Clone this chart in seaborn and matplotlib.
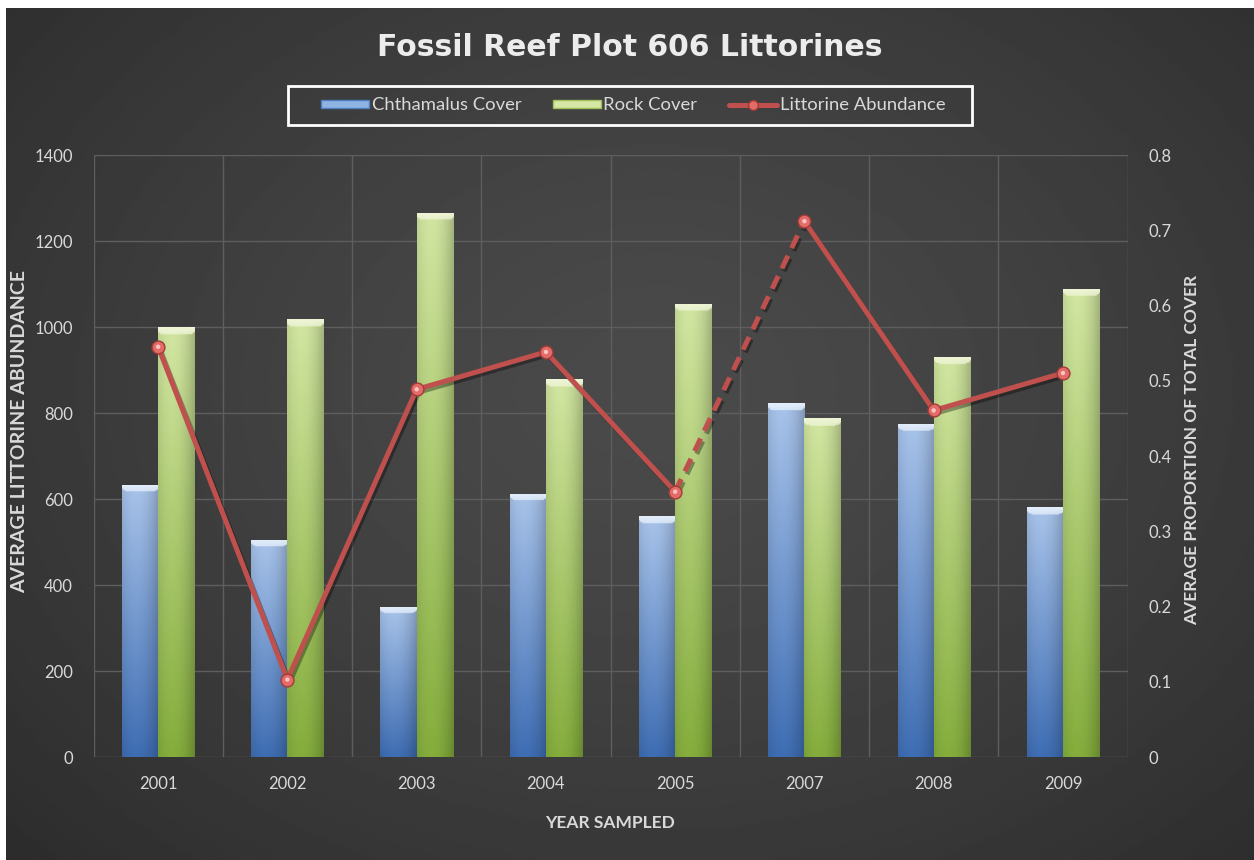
import numpy as np
import pandas as pd
import matplotlib
matplotlib.use("Agg")
import matplotlib.pyplot as plt
import matplotlib.patheffects as pe
from matplotlib.lines import Line2D
from matplotlib.patches import Patch, Rectangle
import seaborn as sns

# ---- data -----------------------------------------------------------------
years = ["2001", "2002", "2003", "2004", "2005", "2007", "2008", "2009"]
chthamalus_cover = [0.362, 0.289, 0.200, 0.350, 0.320, 0.470, 0.443, 0.332]
rock_cover = [0.571, 0.582, 0.723, 0.502, 0.602, 0.450, 0.532, 0.622]
littorine_abundance = [954, 180, 855, 942, 617, 1246, 806, 893]

abundance_ticks = [0, 200, 400, 600, 800, 1000, 1200, 1400]
cover_ticks = [0, 0.1, 0.2, 0.3, 0.4, 0.5, 0.6, 0.7, 0.8]
cover_tick_labels = ["0", "0.1", "0.2", "0.3", "0.4", "0.5", "0.6", "0.7", "0.8"]
series_names = ["Chthamalus Cover", "Rock Cover", "Littorine Abundance"]

title = "Fossil Reef Plot 606 Littorines"
x_title = "YEAR SAMPLED"
left_title = "AVERAGE LITTORINE ABUNDANCE"
right_title = "AVERAGE PROPORTION OF TOTAL COVER"

# ---- style ----------------------------------------------------------------
sns.set_theme(style="white")
plt.rcParams["font.family"] = ["Lato", "DejaVu Sans"]

TEXT = "#d9d9d9"
GRID = "#5e5e5e"
BLUE_TOP, BLUE_BOT, BLUE_CAP = "#a9c4ea", "#3e6db3", "#e4eefb"
GREEN_TOP, GREEN_BOT, GREEN_CAP = "#d2e6a2", "#84ad3c", "#eef5d6"
LINE_RED = "#c0504d"
TICK_SIZE = 12

W, H = 1254, 860
fig = plt.figure(figsize=(W / 100, H / 100), dpi=100, facecolor="white")

# dark radial backdrop (white strip along the top and left edge)
bg = fig.add_axes([6 / W, 0, 1 - 6 / W, 1 - 8 / H])
bg.axis("off")
gx, gy = np.meshgrid(np.linspace(0, 1, 400), np.linspace(0, 1, 300))
dist = np.sqrt(((gx - 0.52) / 0.72) ** 2 + ((gy - 0.55) / 0.80) ** 2)
shade = 74 - 30 * np.clip(dist, 0, 1) ** 1.4
bg.imshow(shade, extent=[0, 1, 0, 1], origin="lower", aspect="auto",
          cmap="gray", vmin=0, vmax=255, interpolation="bilinear")

# plot area
L, R, T, B = 93.5, 1127.6, 155, 757
ax = fig.add_axes([L / W, 1 - B / H, (R - L) / W, (B - T) / H])
ax.set_facecolor("none")

cover_df = pd.DataFrame({
    "year": years * 2,
    "cover": chthamalus_cover + rock_cover,
    "series": [series_names[0]] * len(years) + [series_names[1]] * len(years),
})
sns.barplot(data=cover_df, x="year", y="cover", hue="series", order=years,
            hue_order=series_names[:2],
            palette=[BLUE_BOT, GREEN_BOT], saturation=1, width=0.56, gap=0,
            edgecolor="none", legend=False, ax=ax, zorder=2)

ax.set_xlim(-0.5, len(years) - 0.5)
ax.set_ylim(cover_ticks[0], cover_ticks[-1])


def to_rgb(c):
    return np.array(matplotlib.colors.to_rgb(c))


def gradient_fill(patch, top, bottom, cap):
    """Paint a glossy vertical gradient with a bevelled top cap into a bar."""
    x0, y0 = patch.get_x(), patch.get_y()
    w, h = patch.get_width(), patch.get_height()
    ny, nx = 300, 60
    t = np.linspace(0, 1, ny)[:, None, None]
    u = np.linspace(0, 1, nx)[None, :, None]
    col = to_rgb(bottom) * (1 - t) + to_rgb(top) * t
    prof = 1.0 - 0.22 * ((u - 0.38) / 0.62) ** 2
    img = np.clip(col * prof, 0, 1)
    # bevel cap: a light band of fixed screen height at the top of the bar
    ylo, yhi = ax.get_ylim()
    cap_h = 7 / (B - T) * (yhi - ylo)
    depth = (1 - t) * h
    inset = np.abs(u - 0.5) * 2
    in_cap = depth < cap_h * (1.0 - 0.45 * inset ** 8)
    fade = np.clip(depth / cap_h, 0, 1)
    capcol = to_rgb(cap) * (1 - 0.25 * fade) + img * 0.25 * fade
    img = np.where(in_cap, capcol, img)
    im = ax.imshow(img, extent=[x0, x0 + w, y0, y0 + h], origin="lower",
                   aspect="auto", zorder=2.5, interpolation="bilinear")
    im.set_clip_path(patch)


for container, (top, bot, cap) in zip(
        ax.containers,
        [(BLUE_TOP, BLUE_BOT, BLUE_CAP), (GREEN_TOP, GREEN_BOT, GREEN_CAP)]):
    for bar in container:
        gradient_fill(bar, top, bot, cap)

ax.set_xlim(-0.5, len(years) - 0.5)
ax.set_ylim(cover_ticks[0], cover_ticks[-1])

# gridlines follow the abundance scale (left axis) and the category borders
for v in abundance_ticks:
    ax.axhline(v / abundance_ticks[-1] * cover_ticks[-1], color=GRID, lw=1, zorder=0.5)
for k in range(len(years) + 1):
    ax.axvline(k - 0.5, color=GRID, lw=1, zorder=0.5)
for s in ax.spines.values():
    s.set_visible(False)

# ---- abundance line on the twin axis ---------------------------------------
ax2 = ax.twinx()
ax2.set_ylim(abundance_ticks[0], abundance_ticks[-1])
pos = np.arange(len(years))
line_df = pd.DataFrame({"pos": pos, "abundance": littorine_abundance})
shadow = [pe.SimpleLineShadow(offset=(1.5, -2), shadow_color="black", alpha=0.35), pe.Normal()]

for i in range(len(years) - 1):
    seg = line_df.iloc[i:i + 2]
    gap_year = int(years[i + 1]) - int(years[i]) > 1
    sns.lineplot(data=seg, x="pos", y="abundance", ax=ax2, color=LINE_RED,
                 lw=3.6, solid_capstyle="round", dash_capstyle="butt",
                 legend=False, zorder=3)
    ln = ax2.lines[-1]
    ln.set_path_effects(shadow)
    if gap_year:
        ln.set_linestyle((0, (2.8, 1.7)))

sns.scatterplot(data=line_df, x="pos", y="abundance", ax=ax2, s=85,
                color="#e36b68", edgecolor="#a23a37", linewidth=1.0,
                legend=False, zorder=4)
# small glint on each marker
sns.scatterplot(data=line_df, x="pos", y="abundance", ax=ax2, s=10,
                color="#f7c4c2", edgecolor="none", legend=False, zorder=5)

ax2.set_xlim(-0.5, len(years) - 0.5)
for s in ax2.spines.values():
    s.set_visible(False)

# twinx moves the host ticks to the left: cover scale goes back to the right
ax.yaxis.tick_right()
ax.yaxis.set_label_position("right")
ax.set_yticks(cover_ticks, cover_tick_labels)
ax.tick_params(axis="y", length=0, pad=15, labelsize=TICK_SIZE, labelcolor=TEXT,
               labelleft=False, labelright=True)
ax.tick_params(axis="x", length=0, pad=14, labelsize=TICK_SIZE, labelcolor=TEXT)
ax.set_xlabel(x_title, fontsize=12.5, fontweight="bold", color=TEXT)
ax.xaxis.set_label_coords(0.4995, -0.096)
ax.set_ylabel(right_title, fontsize=12.5, fontweight="bold", color=TEXT, rotation=90)
ax.yaxis.set_label_coords(1.0546, 0.51)

ax2.yaxis.tick_left()
ax2.yaxis.set_label_position("left")
ax2.set_yticks(abundance_ticks)
ax2.tick_params(axis="y", length=0, pad=15, labelsize=TICK_SIZE, labelcolor=TEXT,
                labelleft=True, labelright=False)
ax2.set_xlabel("")
ax2.set_ylabel(left_title, fontsize=14, fontweight="bold", color=TEXT)
ax2.yaxis.set_label_coords(-0.063, 0.54)

# ---- title and legend --------------------------------------------------------
fig.text(630 / W, 1 - 48 / H, title, ha="center", va="center",
         fontsize=21.5, fontweight="bold", color="#ececec",
         family=["DejaVu Sans"])

handles = [
    Patch(facecolor="#8fb4e3", edgecolor="#4f7fc0", linewidth=1),
    Patch(facecolor="#d6e7a6", edgecolor="#9fbf5a", linewidth=1),
    Line2D([], [], color=LINE_RED, lw=3.6, marker="o", markersize=7,
           markerfacecolor="#e36b68", markeredgecolor="#a23a37"),
]
leg = fig.legend(handles, series_names, loc="center",
                 bbox_to_anchor=(633 / W, 1 - 105.5 / H), ncol=3,
                 frameon=False, fontsize=13.3, labelcolor=TEXT,
                 handlelength=2.6, handleheight=0.35, handletextpad=0.15,
                 columnspacing=1.7)
# white outline box around the legend
fig.add_artist(Rectangle((288 / W, 1 - 125 / H), (972 - 288) / W, 39 / H,
                         transform=fig.transFigure, fill=False,
                         edgecolor="white", linewidth=2))

fig.savefig("out.png", dpi=100, facecolor=fig.get_facecolor())
